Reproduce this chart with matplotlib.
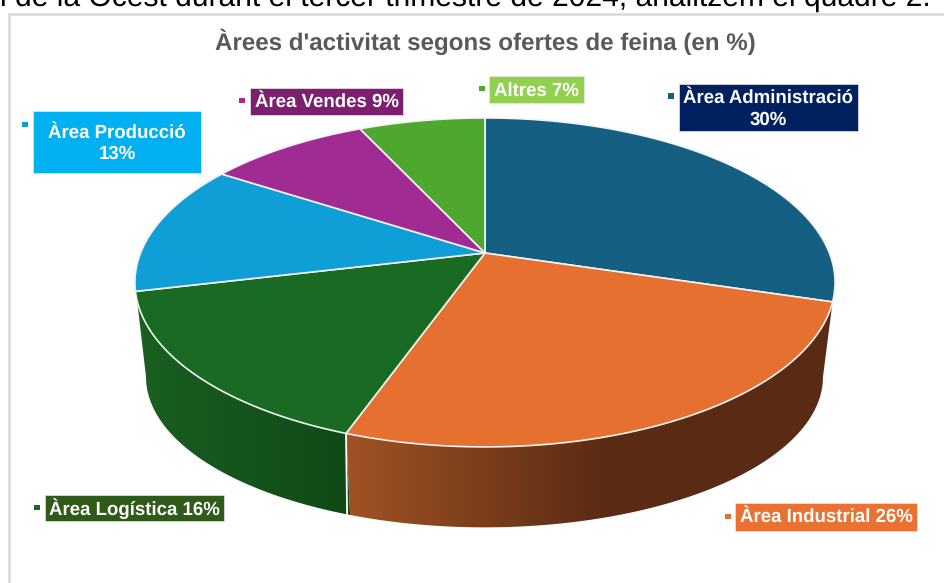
import numpy as np
import matplotlib
matplotlib.use("Agg")
import matplotlib.pyplot as plt
from matplotlib.patches import Polygon, Rectangle
from matplotlib.colors import LinearSegmentedColormap

plt.rcParams['font.family'] = ['Liberation Sans', 'DejaVu Sans']
plt.rcParams['text.hinting'] = 'no_hinting'

title = "Àrees d'activitat segons ofertes de feina (en %)"
top_line = "l de la Ocest durant el tercer trimestre de 2024, analitzem el quadre 2."
labels = ["Àrea Administració\n30%", "Àrea Industrial 26%", "Àrea Logística 16%",
          "Àrea Producció\n13%", "Àrea Vendes 9%", "Altres 7%"]
values = [30, 26, 16, 13, 9, 7]
colors = ["#156082", "#E67030", "#196B24", "#0F9ED5", "#A02B93", "#4EA72E"]
box_colors = ["#002060", "#E97132", "#2F5A1A", "#00B0F0", "#7B1F6E", "#92D050"]
side_light = {1: "#A05225", 2: "#1A5E20"}
side_dark = {1: "#5A2B14", 2: "#104A17"}

# label box (x0, y0, x1, y1), marker centre
boxes = [(679, 84, 858, 131), (735, 503, 917, 531), (45, 495, 224, 521),
         (33, 111, 201, 173), (250, 88, 403, 115), (489, 76, 584, 103)]
marks = [(671, 96), (728, 516.5), (37, 507.5), (24.5, 124.5), (242, 100.5), (481.5, 88.5)]

fig = plt.figure(figsize=(9.45, 5.83), dpi=100, facecolor="white")
ax = fig.add_axes([0, 0, 1, 1])

K = 0.179


def top_xy(t):
    u, v = np.sin(t), np.cos(t)
    d = 1 + K * v
    return 485 + 344.4 * u / d, 253 - 159.2 * v / d


def bot_xy(t):
    u, v = np.sin(t), np.cos(t)
    d = 1 + K * v
    return 484.5 + 333.0 * u / d, 350 - 145.6 * v / d


# chart frame
ax.add_patch(Rectangle((9, 14), 960, 600, fc="white", ec="#D9D9D9", lw=1.8, zorder=0))

fracs = np.array(values, float) / sum(values)
edges = np.concatenate([[0], np.cumsum(fracs)]) * 2 * np.pi

# sides: horizontal gradient clipped to the wall outline
t_tan = np.arccos(-K)
grad_range = {1: (348, 608), 2: (146, 346)}
for i in (1, 2):
    if i == 1:
        ts = np.linspace(t_tan, edges[i + 1], 200)
    else:
        ts = np.linspace(edges[i], 2 * np.pi - t_tan, 120)
    x1, y1 = top_xy(ts)
    x2, y2 = bot_xy(ts)
    pts = np.column_stack([np.r_[x1, x2[::-1]], np.r_[y1, y2[::-1]]])
    wall = Polygon(pts, closed=True, fc="none", ec="none", transform=ax.transData)
    ax.add_patch(wall)
    cmap = LinearSegmentedColormap.from_list("s", [side_light[i], side_dark[i]])
    g0, g1 = grad_range[i]
    xx = np.linspace(0, 945, 946)
    img = ax.imshow(np.clip((xx - g0) / (g1 - g0), 0, 1)[None, :], cmap=cmap, vmin=0, vmax=1,
                    extent=(0, 945, 583, 0), aspect="auto", zorder=2, interpolation="bilinear")
    img.set_clip_path(wall)

# divider on the side
xa, ya = top_xy(edges[2])
xb, yb = bot_xy(edges[2])
ax.plot([xa, xb - 3], [ya, yb], color="white", lw=1.3, zorder=3)

# top slices
for i, c in enumerate(colors):
    ts = np.linspace(edges[i], edges[i + 1], 200)
    x, y = top_xy(ts)
    pts = np.column_stack([np.r_[485, x], np.r_[253, y]])
    ax.add_patch(Polygon(pts, closed=True, fc=c, ec="#F2F2F2", lw=1.2, zorder=4, joinstyle="round"))

# labels
for lab, b, bc in zip(labels, boxes, box_colors):
    ax.add_patch(Rectangle((b[0], b[1]), b[2] - b[0], b[3] - b[1], fc=bc, ec="#E8E8E8", lw=0.5, zorder=5))
    ax.text((b[0] + b[2]) / 2, (b[1] + b[3]) / 2 + (2 if "\n" in lab else 1), lab, color="white",
            fontsize=13.4, fontweight="bold", ha="center", va="center", zorder=6, linespacing=1.22)
for m, c in zip(marks, colors):
    ax.add_patch(Rectangle((m[0] - 3, m[1] - 2.7), 6, 5.4, fc=c, ec="none", zorder=5))

ax.text(485, 42, title, color="#595959", fontsize=17.4, fontweight="bold", ha="center", va="center")
ax.text(0, 6, top_line, color="black", fontsize=21.6, ha="left", va="baseline", clip_on=False)

ax.set_xlim(0, 945)
ax.set_ylim(583, 0)
ax.axis("off")

fig.savefig("out.png", dpi=100, facecolor="white")
